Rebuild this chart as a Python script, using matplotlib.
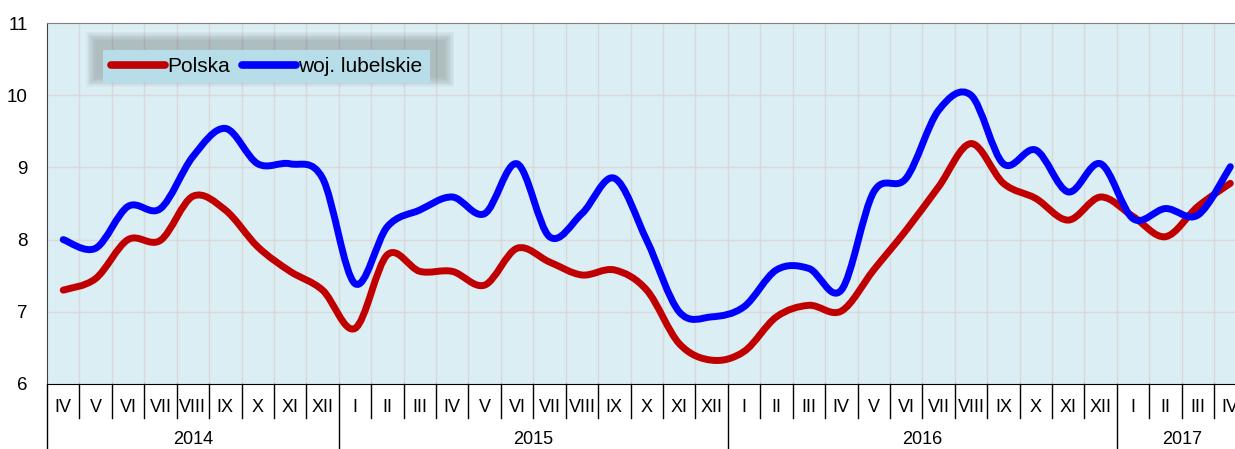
import numpy as np
import matplotlib.pyplot as plt
from matplotlib.path import Path
from matplotlib.patches import PathPatch, Rectangle
from matplotlib.lines import Line2D

plt.rcParams['font.family'] = ['Liberation Sans', 'DejaVu Sans']

months = (['IV', 'V', 'VI', 'VII', 'VIII', 'IX', 'X', 'XI', 'XII']
          + ['I', 'II', 'III', 'IV', 'V', 'VI', 'VII', 'VIII', 'IX', 'X', 'XI', 'XII'] * 2
          + ['I', 'II', 'III', 'IV'])
years = ['2014', '2015', '2016', '2017']
year_counts = [9, 12, 12, 4]

polska = [7.30, 7.46, 8.00, 7.99, 8.60, 8.41, 7.90, 7.56, 7.30,
          6.77, 7.79, 7.56, 7.56, 7.37, 7.88, 7.69, 7.51, 7.58, 7.30, 6.56, 6.33,
          6.45, 6.93, 7.09, 7.01, 7.58, 8.13, 8.73, 9.33, 8.78, 8.57, 8.27, 8.59,
          8.32, 8.04, 8.46, 8.78]
lubelskie = [8.00, 7.88, 8.46, 8.43, 9.15, 9.54, 9.05, 9.05, 8.85,
             7.39, 8.18, 8.41, 8.59, 8.36, 9.05, 8.04, 8.36, 8.85, 7.99, 7.00, 6.93,
             7.07, 7.58, 7.60, 7.30, 8.66, 8.85, 9.79, 10.00, 9.05, 9.24, 8.66, 9.05,
             8.29, 8.43, 8.34, 9.01]


def smooth_path(y):
    # excel-like smoothed line: cubic bezier segments through every point
    x = np.arange(len(y), dtype=float)
    y = np.asarray(y, dtype=float)
    pts = np.column_stack([x, y])
    verts = [pts[0]]
    codes = [Path.MOVETO]
    n = len(pts)
    for i in range(n - 1):
        p0 = pts[max(i - 1, 0)]
        p1 = pts[i]
        p2 = pts[i + 1]
        p3 = pts[min(i + 2, n - 1)]
        c1 = p1 + (p2 - p0) / 6.0
        c2 = p2 - (p3 - p1) / 6.0
        verts += [c1, c2, p2]
        codes += [Path.CURVE4] * 3
    return Path(verts, codes)


W, H = 1235, 449
fig = plt.figure(figsize=(W / 100, H / 100), dpi=100)
cell = 32.42
left, top, bottom = 47, 23, 384
ax = fig.add_axes([left / W, (H - bottom) / H, len(months) * cell / W, (bottom - top) / H])
ax.set_facecolor('#daeef3')
ax.set_xlim(-0.5, len(months) - 0.5)
ax.set_ylim(6, 11)

for k in range(len(months) - 1):
    ax.axvline(k + 0.5, color='#d9d9d9', lw=1, zorder=1)
for v in range(7, 11):
    ax.axhline(v, color='#d9d9d9', lw=1, zorder=1)

ax.add_patch(PathPatch(smooth_path(polska), fill=False, edgecolor='#c00000', lw=5,
                       capstyle='round', joinstyle='round', zorder=3))
ax.add_patch(PathPatch(smooth_path(lubelskie), fill=False, edgecolor='#0000ff', lw=5,
                       capstyle='round', joinstyle='round', zorder=4))

ax.set_yticks(range(6, 12))
ax.set_yticklabels([str(v) for v in range(6, 12)], fontsize=13.5)
ax.tick_params(axis='y', length=0, pad=14)
ax.set_xticks([])
ax.spines['right'].set_visible(False)
ax.spines['top'].set_color('#7f7f7f')
ax.spines['left'].set_color('#404040')
ax.spines['bottom'].set_color('black')

# category axis below the plot
tr = ax.get_xaxis_transform()
for i, m in enumerate(months):
    ax.text(i, -0.064, m, transform=tr, ha='center', va='center', fontsize=13)
boundaries = np.cumsum(year_counts)
for k in range(len(months)):
    x = k - 0.5
    depth = -0.18 if (k == 0 or k in boundaries) else -0.094
    ax.add_line(Line2D([x, x], [0, depth], transform=tr, color='black', lw=1, clip_on=False))
start = 0
for yr, c in zip(years, year_counts):
    ax.text(start + (c - 1) / 2, -0.155, yr, transform=tr, ha='center', va='center', fontsize=13)
    start += c

# legend with a soft shadow, shifted up and to the right
lx0, ly0, lx1, ly1 = 0.038, 0.831, 0.328, 0.928
sx, sy = 0.003, 0.02
for g in range(7, 0, -1):
    dx = g * 0.0012
    dy = g * 0.004
    ax.add_patch(Rectangle((lx0 + sx - dx, ly0 + sy - dy), lx1 - lx0 + 2 * dx, ly1 - ly0 + 2 * dy,
                           transform=ax.transAxes, facecolor='#303030', edgecolor='none',
                           alpha=0.04, zorder=5))
handles = [Line2D([], [], color='#c00000', lw=5.5, solid_capstyle='round'),
           Line2D([], [], color='#0000ff', lw=5.5, solid_capstyle='round')]
leg = ax.legend(handles, ['Polska', 'woj. lubelskie'], ncol=2, fontsize=15,
                loc='center', bbox_to_anchor=((lx0 + lx1) / 2, (ly0 + ly1) / 2),
                frameon=True, fancybox=False, facecolor='#b7dde8', edgecolor='none',
                framealpha=1, handlelength=2.6, handletextpad=0.1, columnspacing=0.6,
                borderpad=0.35, borderaxespad=0)
leg.set_zorder(6)

fig.savefig('out.png', dpi=100)
